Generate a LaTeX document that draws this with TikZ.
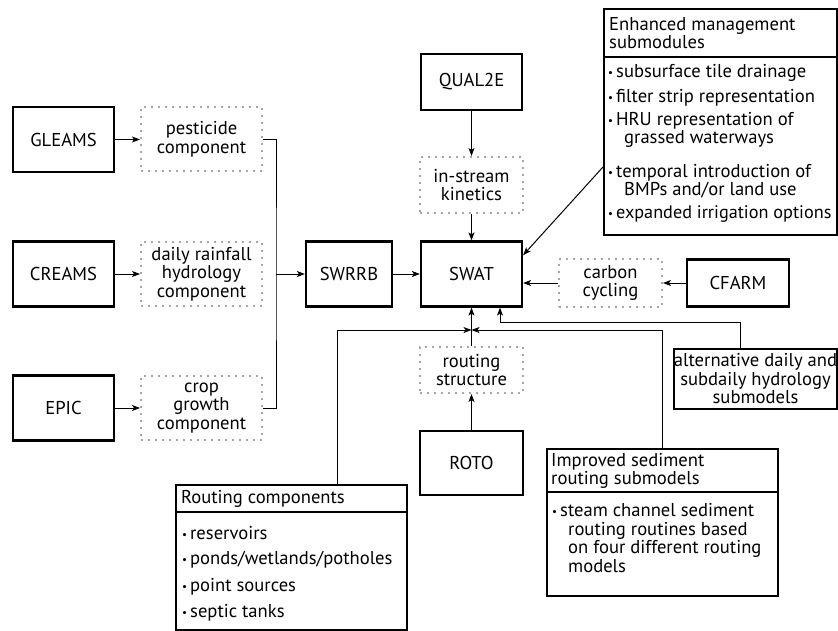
\documentclass[tikz,border=0pt]{standalone}
\usepackage{fontspec}
\setmainfont{PT Sans}
\usetikzlibrary{arrows.meta}

\newcommand{\bul}{\raisebox{1pt}{\fontsize{11}{11}\selectfont\textbullet}\hspace{3pt}}

\begin{document}
\begin{tikzpicture}[x=1pt,y=-1pt,
		font=\fontsize{18.6}{18.5}\selectfont,
		solidbox/.style={draw,line width=2.2pt,align=center,inner sep=0pt},
		dotbox/.style={draw=gray!70,line width=2pt,dash pattern=on 2pt off 5pt,align=center,inner sep=0pt},
		listbox/.style={draw,line width=2.2pt,inner sep=0pt,anchor=north west},
		conn/.style={line width=1pt},
		arr/.style={conn,-{Stealth[length=8pt,width=6pt,inset=2pt]}},
		txt/.style={anchor=west,align=left,inner sep=0pt}]
		\useasboundingbox (0,0) rectangle (838,631);
		% left column
		\node[solidbox,minimum width=101pt,minimum height=65pt] (gleams) at (63.5,139.5) {GLEAMS};
		\node[solidbox,minimum width=101pt,minimum height=65pt] (creams) at (63.5,274) {CREAMS};
		\node[solidbox,minimum width=101pt,minimum height=65pt] (epic) at (63.5,408) {EPIC};
		\node[dotbox,minimum width=121pt,minimum height=64pt] (pest) at (201.5,139.5) {pesticide\\component};
		\node[dotbox,minimum width=121pt,minimum height=64pt] (daily) at (201.5,274) {daily rainfall\\hydrology\\component};
		\node[dotbox,minimum width=121pt,minimum height=64pt] (crop) at (201.5,408) {crop\\growth\\component};
		\draw[arr] (gleams.east) -- (pest.west);
		\draw[arr] (creams.east) -- (daily.west);
		\draw[arr] (epic.east) -- (crop.west);
		\coordinate (join) at (276,274);
		\draw[conn] (pest.east) -| (join) |- (crop.east);
		% centre
		\node[solidbox,minimum width=86pt,minimum height=65pt] (swrrb) at (349,274) {SWRRB};
		\node[solidbox,minimum width=101pt,minimum height=65pt] (swat) at (471.5,274) {SWAT};
		\node[solidbox,minimum width=101pt,minimum height=56pt] (qual) at (471.5,82) {QUAL2E};
		\node[dotbox,minimum width=103pt,minimum height=56pt] (instream) at (471.5,185) {in-stream\\kinetics};
		\node[dotbox,minimum width=103pt,minimum height=48pt] (carbon) at (610.5,283) {carbon\\cycling};
		\node[solidbox,minimum width=102pt,minimum height=47pt] (cfarm) at (738,283) {CFARM};
		\node[dotbox,minimum width=103pt,minimum height=46pt] (rstruct) at (471.5,370) {routing\\structure};
		\node[solidbox,minimum width=103pt,minimum height=64pt] (roto) at (471.5,463) {ROTO};
		\node[solidbox,minimum width=161pt,minimum height=60pt] (alt) at (755.5,379) {alternative daily and\\subdaily hydrology\\submodels};
		\draw[arr] (join) -- (swrrb.west);
		\draw[arr] (swrrb) -- (swat);
		\draw[arr] (qual) -- (instream);
		\draw[arr] (instream) -- (swat);
		\draw[arr] (cfarm.west) -- (carbon.east);
		\draw[arr] (carbon.west) -- (swat.east |- carbon.west);
		\draw[arr] (roto) -- (rstruct);
		\draw[arr] (rstruct) -- (swat);
		% enhanced management
		\node[listbox,minimum width=233pt,minimum height=226pt] (enh) at (603,8) {};
		\draw[line width=1.6pt] ([yshift=-49pt]enh.north west) -- ([yshift=-49pt]enh.north east);
		\node[txt] (enhhead) at (609,33) {Enhanced management\\submodules};
		\node[txt] (enh1) at (608,73) {\bul subsurface tile drainage};
		\node[txt] (enh2) at (608,98) {\bul filter strip representation};
		\node[txt] (enh3) at (608,130) {\bul HRU representation of\\\hspace*{16pt}grassed waterways};
		\node[txt] (enh4) at (608,181) {\bul temporal introduction of\\\hspace*{16pt}BMPs and/or land use};
		\node[txt] (enh5) at (608,214) {\bul \fontsize{18.2}{18.5}\selectfont expanded irrigation options};
		\coordinate (enhout) at (603,167);
		\draw[arr] (enhout) -- (swat.20);
		% routing components
		\node[listbox,minimum width=231pt,minimum height=145pt] (rcomp) at (175,484) {};
		\draw[line width=1.6pt] ([yshift=-28pt]rcomp.north west) -- ([yshift=-28pt]rcomp.north east);
		\node[txt] (rchead) at (181,499) {Routing components};
		\node[txt] (rc1) at (182,533) {\bul reservoirs};
		\node[txt] (rc2) at (182,560) {\bul ponds/wetlands/potholes};
		\node[txt] (rc3) at (182,587) {\bul point sources};
		\node[txt] (rc4) at (182,613) {\bul septic tanks};
		% sediment routing
		\node[listbox,minimum width=231pt,minimum height=147pt] (sed) at (546,448) {};
		\draw[line width=1.6pt] ([yshift=-44pt]sed.north west) -- ([yshift=-44pt]sed.north east);
		\node[txt] (sedhead) at (551,471) {Improved sediment\\routing submodels};
		\node[txt] (sed1) at (552,538) {\bul steam channel sediment\\\hspace*{16pt}routing routines based\\\hspace*{16pt}on four different routing\\\hspace*{16pt}models};
		% joins below SWAT
		\coordinate (mid) at (471.5,330);
		\coordinate (rctop) at (337,484);
		\coordinate (sedtop) at (662,448);
		\draw[arr] (rctop) |- (mid);
		\draw[arr] (sedtop) |- (mid);
		\coordinate (alttop) at (740,349);
		\coordinate (altbend) at (500,322);
		\draw[arr] (alttop) |- (altbend) -- (swat.south -| altbend);
	\end{tikzpicture}
\end{document}
